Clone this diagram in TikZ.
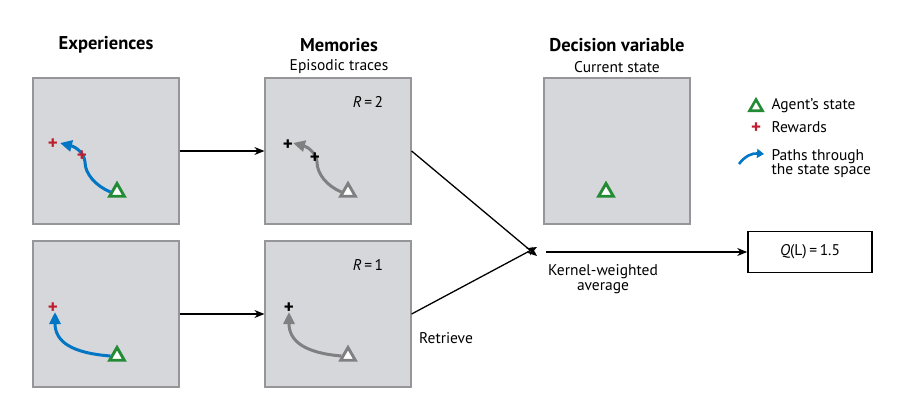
\documentclass[tikz,border=0pt]{standalone}
\usepackage{fontspec}
\setmainfont{PT Sans}
\usetikzlibrary{arrows.meta,shapes.geometric}
\definecolor{panelgray}{RGB}{214,215,218}
\definecolor{edgegray}{RGB}{150,150,152}
\definecolor{pathblue}{RGB}{0,118,196}
\definecolor{stategreen}{RGB}{34,139,52}
\definecolor{rewardred}{RGB}{190,30,45}
\definecolor{tracegray}{RGB}{128,128,130}
\begin{document}
\begin{tikzpicture}[x=1pt, y=-1pt,
  panel/.style = {draw=edgegray, line width=1.2pt, fill=panelgray, minimum width=146pt, minimum height=146pt, inner sep=0pt},
  heading/.style = {font=\fontsize{18.5}{21}\selectfont\bfseries},
  label/.style = {font=\fontsize{15.5}{18}\selectfont, align=center},
  agent/.style = {regular polygon, regular polygon sides=3, draw=#1, fill=white, line width=2.9pt, minimum size=17pt, inner sep=0pt},
  reward/.style = {text=#1, font=\fontsize{19}{19}\selectfont\bfseries, inner sep=0pt},
  trail/.style = {draw=#1, line width=3pt, -{Triangle[length=12pt, width=11pt]}},
  flow/.style = {draw=black, line width=1.3pt, -{Stealth[length=10pt, width=8pt]}}]
  \useasboundingbox (0,0) rectangle (904,404);
  % column headings
  \node[heading] (hexp) at (106,45) {Experiences};
  \node[heading] (hmem) at (339,45) {Memories};
  \node[label] (hepi) at (339,67) {Episodic traces};
  \node[heading] (hdec) at (617,45) {Decision variable};
  \node[label] (hcur) at (617,67) {Current state};
  % panels
  \node[panel] (exp1) at (106,151) {};
  \node[panel] (mem1) at (338,151) {};
  \node[panel] (exp2) at (106,314) {};
  \node[panel] (mem2) at (338,314) {};
  \node[panel] (cur) at (617,151) {};
  \node[label] (r2) at (368,102) {\textit{R}\,=\,2};
  \node[label] (r1) at (368,265) {\textit{R}\,=\,1};
  % experiences, top
  \node[agent=stategreen] (tri1) at (117,192) {};
  \coordinate (tip1) at (60,143);
  \draw[trail=pathblue] (tri1.west) .. controls (96,186) and (85,174) .. (85,162)
    .. controls (84,153) and (76,147) .. (tip1);
  \node[reward=rewardred] (plus1a) at (53,144) {+};
  \node[reward=rewardred] (plus1b) at (82,156) {+};
  % memories, top
  \node[agent=tracegray] (tri2) at (348,192) {};
  \coordinate (tip2) at (293,143);
  \draw[trail=tracegray] (tri2.west) .. controls (327,186) and (317,174) .. (317,162)
    .. controls (316,153) and (308,147) .. (tip2);
  \node[reward=black] (plus2a) at (288,145) {+};
  \node[reward=black] (plus2b) at (315,158) {+};
  % experiences, bottom
  \node[agent=stategreen] (tri3) at (117,356) {};
  \coordinate (tip3) at (55,312);
  \draw[trail=pathblue] (tri3.west) .. controls (72,353) and (55,342) .. (tip3);
  \node[reward=rewardred] (plus3) at (53,308) {+};
  % memories, bottom
  \node[agent=tracegray] (tri4) at (348,356) {};
  \coordinate (tip4) at (289,312);
  \draw[trail=tracegray] (tri4.west) .. controls (306,353) and (289,342) .. (tip4);
  \node[reward=black] (plus4) at (289,308) {+};
  % current state
  \node[agent=stategreen] (tri5) at (606,192) {};
  % flow arrows
  \coordinate (join) at (537,251);
  \node[draw=black, line width=1.6pt, minimum width=124pt, minimum height=41pt, font=\fontsize{15.5}{18}\selectfont] (qval) at (810,252) {\textit{Q}(L)\,=\,1.5};
  \draw[flow] (exp1) -- (mem1);
  \draw[flow] (exp2) -- (mem2);
  \draw[flow] (mem1.east) -- ([yshift=-5pt]join);
  \draw[flow] (mem2.east) -- ([yshift=4pt]join);
  \draw[flow] ([xshift=9pt]join |- qval) -- (qval);
  \node[label] (kern) at (603,279) {Kernel-weighted\\[-3pt]average};
  \node[label] (retr) at (446,338) {Retrieve};
  % legend
  \node[agent=stategreen, minimum size=15pt, line width=2.6pt] (legtri) at (756,107) {};
  \node[label, anchor=west] (legtrit) at (768,106) {Agent's state};
  \node[reward=rewardred] (legplus) at (756,128) {+};
  \node[label, anchor=west] (legplust) at (768,127) {Rewards};
  \coordinate (legs) at (739,164);
  \coordinate (lege) at (764,154);
  \draw[draw=pathblue, line width=2.6pt, -{Triangle[length=7pt, width=9pt]}] (legs) .. controls (745,156) and (752,153) .. (lege);
  \node[label, anchor=west, align=left] (legpatht) at (768,164) {Paths through\\[-4pt]the state space};
\end{tikzpicture}
\end{document}
